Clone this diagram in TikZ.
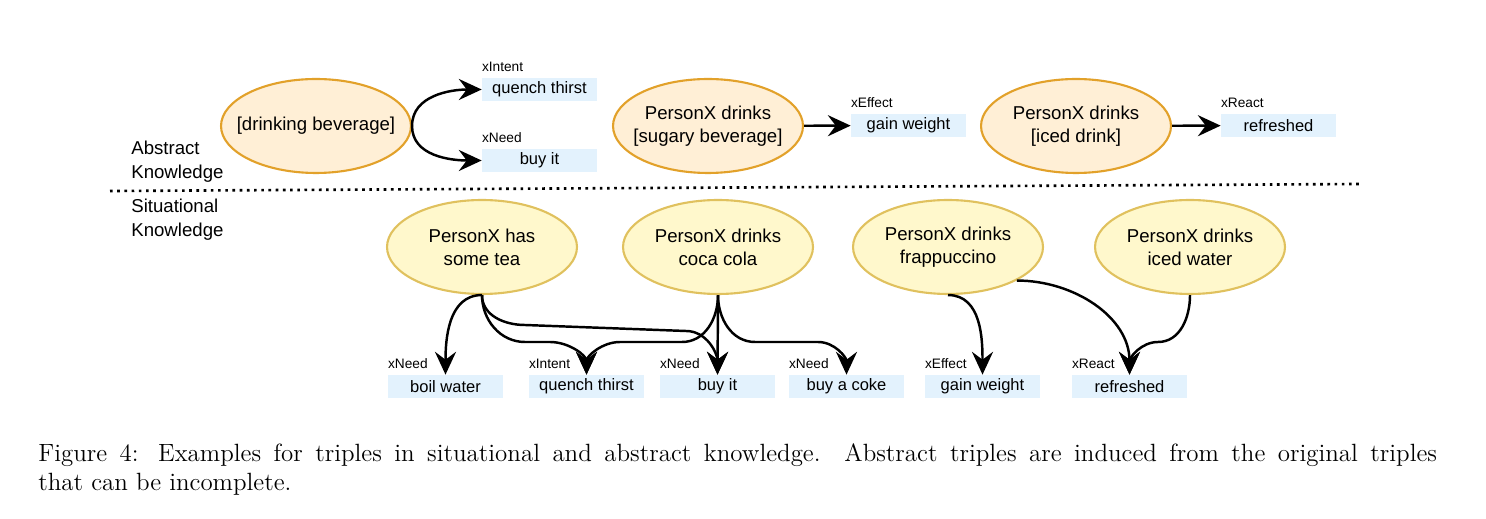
\documentclass[tikz,border=0pt]{standalone}
\usepackage{fontspec}
\newfontfamily\arial{Liberation Sans}
\usetikzlibrary{shapes.geometric,arrows.meta}

\definecolor{absfill}{HTML}{FFEFD6}
\definecolor{absdraw}{HTML}{E2A12A}
\definecolor{sitfill}{HTML}{FFF8CC}
\definecolor{sitdraw}{HTML}{E0C15E}
\definecolor{tailfill}{HTML}{E3F2FD}

\begin{document}
\begin{tikzpicture}[x=0.02cm, y=-0.02cm,
    event/.style={ellipse, draw, line width=1.2pt, minimum width=3.8cm, minimum height=1.88cm,
        inner xsep=-8pt, inner ysep=0pt, align=center, font=\arial\fontsize{10.6}{13.1}\selectfont},
    abstract/.style={event, fill=absfill, draw=absdraw},
    situation/.style={event, fill=sitfill, draw=sitdraw},
    relname/.style={anchor=base west, inner sep=0pt, yshift=0.13cm, font=\arial\fontsize{7.8}{9}\selectfont},
    tail/.style={rectangle, fill=tailfill, minimum width=2.3cm, minimum height=0.46cm, inner sep=0pt,
        font=\arial\fontsize{9.4}{11}\selectfont, label={[relname]north west:#1}},
    edge/.style={line width=1.4pt, -{Stealth[length=13pt,width=12pt,inset=4.5pt]}},
    side/.style={anchor=west, align=left, inner sep=0pt, font=\arial\fontsize{10.6}{13.6}\selectfont}]
    \useasboundingbox (0,0) rectangle (1486,519);

    % Abstract knowledge
    \node [abstract] (drinkbev) at (316,126) {[drinking beverage]};
    \node [abstract] (sugary) at (708,126) {PersonX drinks\\{}[sugary beverage]};
    \node [abstract] (iced) at (1076,126) {PersonX drinks\\{}[iced drink]};

    \node [tail=xIntent] (quench) at (539.5,89.5) {quench thirst};
    \node [tail=xNeed] (buyit) at (539.5,160.5) {buy it};
    \node [tail=xEffect] (gain) at (908.5,125.5) {gain weight};
    \node [tail=xReact] (refresh) at (1278.5,125.5) {refreshed};

    \draw[edge] (drinkbev.east) to[out=90,in=180] (quench.west);
    \draw[edge] (drinkbev.east) to[out=-90,in=180] (buyit.west);
    \draw[edge] (sugary) -- (gain);
    \draw[edge] (iced) -- (refresh);

    % Separator
    \node [side] (abslabel) at (131,162) {Abstract\\Knowledge};
    \node [side] (sitlabel) at (131,220) {Situational\\Knowledge};
    \draw[line width=1.5pt, dash pattern=on 1.5pt off 2.6pt] (110,191) -- (1362,184);

    % Situational knowledge
    \node [situation] (tea) at (482,247) {PersonX has\\some tea};
    \node [situation] (coke) at (718,247) {PersonX drinks\\coca cola};
    \node [situation] (frap) at (948,247) {PersonX drinks\\frappuccino};
    \node [situation] (water) at (1190,247) {PersonX drinks\\iced water};

    \node [tail=xNeed] (boil) at (445.5,386.5) {boil water};
    \node [tail=xIntent] (quench2) at (586.5,386.5) {quench thirst};
    \node [tail=xNeed] (buyit2) at (717.5,386.5) {buy it};
    \node [tail=xNeed] (buycoke) at (846.5,386.5) {buy a coke};
    \node [tail=xEffect] (gain2) at (982.5,386.5) {gain weight};
    \node [tail=xReact] (refresh2) at (1129.5,386.5) {refreshed};

    % Arrows
    \draw[edge] (tea.south) to[out=180,in=90] (boil.north);
    \draw[edge] (tea.south) to[out=-90,in=180] (525,342) -- (550,342) to[out=0,in=90] (quench2.north);
    \draw[edge] (tea.south) to[out=-90,in=180] (525,325) -- (686,331) to[out=0,in=90] (buyit2.north);
    \draw[edge] (coke.south) to[out=-90,in=0] (682,342) -- (620,342) to[out=180,in=90] (quench2.north);
    \draw[edge] (coke.south) -- (buyit2.north);
    \draw[edge] (coke.south) to[out=-90,in=180] (755,342) -- (818,342) to[out=0,in=90] (buycoke.north);
    \draw[edge] (frap.south) to[out=0,in=90] (gain2.north);
    \draw[edge] (frap.-26) to[out=0,in=90] (refresh2.north);
    \draw[edge] (water.south) to[out=-90,in=0] (1158,342) to[out=180,in=90] (refresh2.north);

    % Caption
    \node [anchor=north west, inner sep=0pt, text width=27.98cm, align=justify,
        font=\fontsize{14.2}{16.6}\selectfont] (caption) at (38,443)
        {Figure 4: Examples for triples in situational and abstract knowledge. Abstract triples are induced from the original triples\linebreak that can be incomplete.};
\end{tikzpicture}
\end{document}
